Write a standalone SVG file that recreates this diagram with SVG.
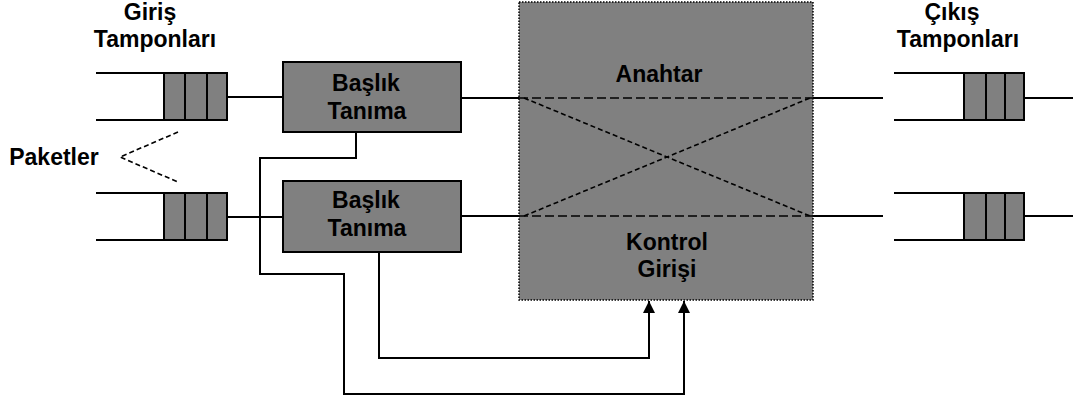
<svg xmlns="http://www.w3.org/2000/svg" width="1079" height="403" viewBox="0 0 1079 403">
  <style>
    .lbl { font-family: "Liberation Sans", Arial, sans-serif; font-weight: bold; font-size: 23px; fill: #000; text-anchor: middle; }
    .box { fill: #808080; stroke: #000; stroke-width: 2; }
    .cell { fill: #808080; stroke: #000; stroke-width: 2; }
    .wire { fill: none; stroke: #000; stroke-width: 2; }
    .dashH { fill: none; stroke: #000; stroke-width: 1.6; stroke-dasharray: 9 4; }
    .dashD { fill: none; stroke: #000; stroke-width: 1.6; stroke-dasharray: 5 3; }
  </style>
  <defs>
    <marker id="arrow" viewBox="0 0 10 10" refX="10" refY="5" markerWidth="12" markerHeight="12" markerUnits="userSpaceOnUse" orient="auto">
      <path d="M0,0 L10,5 L0,10 z" fill="#000"/>
    </marker>
    <!-- three-slot buffer, origin at left end of the open rails -->
    <g id="queue-in">
      <line x1="0" y1="0" x2="68" y2="0" class="wire"/>
      <line x1="0" y1="47" x2="68" y2="47" class="wire"/>
      <rect x="68" y="0" width="63" height="47" class="cell"/>
      <line x1="89" y1="0" x2="89" y2="47" class="wire"/>
      <line x1="111" y1="0" x2="111" y2="47" class="wire"/>
    </g>
    <g id="queue-out">
      <line x1="0" y1="0" x2="70" y2="0" class="wire"/>
      <line x1="0" y1="47" x2="70" y2="47" class="wire"/>
      <rect x="70" y="0" width="60" height="47" class="cell"/>
      <line x1="92" y1="0" x2="92" y2="47" class="wire"/>
      <line x1="111" y1="0" x2="111" y2="47" class="wire"/>
    </g>
  </defs>

  <rect width="1079" height="403" fill="#fff"/>

  <!-- headings -->
  <text class="lbl" x="150" y="20">Giriş</text>
  <text class="lbl" x="155" y="47">Tamponları</text>
  <text class="lbl" x="952" y="20">Çıkış</text>
  <text class="lbl" x="958" y="47">Tamponları</text>

  <!-- switch fabric -->
  <g id="switch">
    <rect x="519" y="2" width="294" height="298" fill="#808080" stroke="#000" stroke-width="1.5" stroke-dasharray="1.5 1.5"/>
    <text class="lbl" x="659" y="82">Anahtar</text>
    <text class="lbl" x="667" y="250">Kontrol</text>
    <text class="lbl" x="667" y="277">Girişi</text>
    <line x1="519" y1="98" x2="813" y2="98" class="dashH"/>
    <line x1="519" y1="216" x2="813" y2="216" class="dashH"/>
    <line x1="524" y1="98" x2="810" y2="216" class="dashD"/>
    <line x1="524" y1="216" x2="810" y2="98" class="dashD"/>
  </g>

  <!-- input buffers -->
  <g id="in-buffer-1"><use href="#queue-in" x="96" y="73"/></g>
  <g id="in-buffer-2"><use href="#queue-in" x="96" y="193"/></g>

  <!-- output buffers -->
  <g id="out-buffer-1"><use href="#queue-out" x="894" y="73"/></g>
  <g id="out-buffer-2"><use href="#queue-out" x="894" y="193"/></g>

  <!-- packets pointer -->
  <g id="packets">
    <text class="lbl" x="54" y="165">Paketler</text>
    <polyline points="178,132 120,157 178,182" class="dashD"/>
  </g>

  <!-- connectors -->
  <g id="connectors">
    <line x1="227" y1="97" x2="283" y2="97" class="wire"/>
    <line x1="227" y1="217" x2="283" y2="217" class="wire"/>
    <line x1="461" y1="98" x2="519" y2="98" class="wire"/>
    <line x1="461" y1="216" x2="519" y2="216" class="wire"/>
    <line x1="813" y1="98" x2="883" y2="98" class="wire"/>
    <line x1="813" y1="216" x2="883" y2="216" class="wire"/>
    <line x1="1024" y1="98" x2="1073" y2="98" class="wire"/>
    <line x1="1024" y1="216" x2="1073" y2="216" class="wire"/>
    <polyline points="356,132 356,158 260,158 260,274 344,274 344,394 684,394 684,301" class="wire" marker-end="url(#arrow)"/>
    <polyline points="379,252 379,358 649,358 649,301" class="wire" marker-end="url(#arrow)"/>
  </g>

  <!-- header recognition blocks -->
  <g id="header-1">
    <rect x="283" y="62" width="178" height="70" class="box"/>
    <text class="lbl" x="366" y="91">Başlık</text>
    <text class="lbl" x="367" y="119">Tanıma</text>
  </g>
  <g id="header-2">
    <rect x="283" y="181" width="178" height="71" class="box"/>
    <text class="lbl" x="366" y="208">Başlık</text>
    <text class="lbl" x="367" y="236">Tanıma</text>
  </g>
</svg>
